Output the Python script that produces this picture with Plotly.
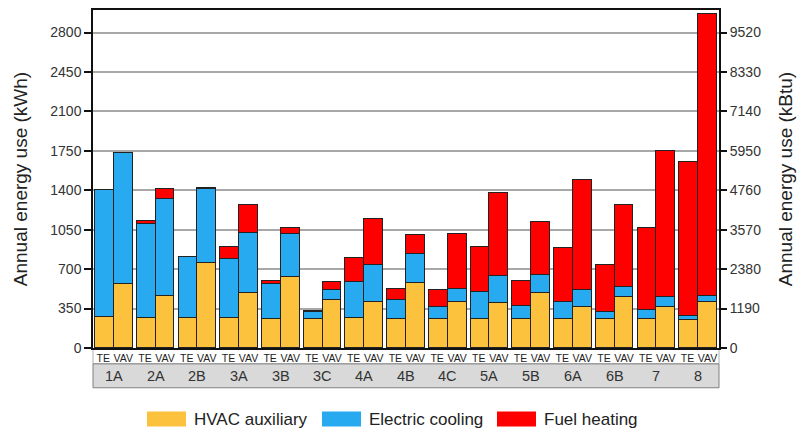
import plotly.graph_objects as go

groups = ["1A", "2A", "2B", "3A", "3B", "3C", "4A", "4B", "4C", "5A", "5B", "6A", "6B", "7", "8"]
systems = ["TE", "VAV"]
series_names = ["HVAC auxiliary", "Electric cooling", "Fuel heating"]
series_colors = ["#FCC23E", "#27AAF0", "#FF0000"]

hvac_te = [275, 265, 265, 265, 259, 256, 262, 256, 256, 256, 256, 256, 256, 256, 250]
hvac_vav = [571, 465, 754, 486, 627, 430, 404, 580, 404, 398, 492, 368, 451, 365, 407]
cool_te = [1125, 834, 539, 527, 310, 62, 324, 174, 109, 245, 115, 148, 65, 80, 36]
cool_vav = [1164, 855, 654, 536, 383, 83, 333, 254, 120, 244, 156, 148, 94, 86, 56]
heat_te = [0, 32, 0, 104, 26, 8, 215, 97, 151, 395, 224, 480, 416, 727, 1361]
heat_vav = [0, 91, 9, 245, 53, 73, 409, 165, 484, 734, 466, 975, 722, 1299, 2498]

left_ticks = [0, 350, 700, 1050, 1400, 1750, 2100, 2450, 2800]
right_ticks = [0, 1190, 2380, 3570, 4760, 5950, 7140, 8330, 9520]

# layout geometry
W, H = 803, 432
ML, MR, MT, MB = 93, 84, 8, 84
PW, PH = W - ML - MR, H - MT - MB
BW = 0.45
off = BW / 2

n = len(groups)
x_te = [i - off for i in range(n)]
x_vav = [i + off for i in range(n)]
xs = x_te + x_vav

# label positions (TE label nudged left a little, as in the original)
lab_te = [i - off - 0.03 for i in range(n)]
lab_vav = [i + off for i in range(n)]

values = [hvac_te + hvac_vav, cool_te + cool_vav, heat_te + heat_vav]

fig = go.Figure()
for name, color, vals in zip(series_names, series_colors, values):
    fig.add_trace(go.Bar(
        x=xs, y=vals, width=BW, name=name,
        marker=dict(color=color, line=dict(color="#222222", width=1)),
        showlegend=False,
    ))

fig.add_trace(go.Scatter(x=[0], y=[0], yaxis="y2", mode="markers",
                         marker=dict(opacity=0), showlegend=False, hoverinfo="skip"))

def px_x(p):
    return (p - ML) / PW

def px_y(p):
    return (H - MB - p) / PH

shapes = [
    dict(type="rect", xref="paper", yref="paper", x0=0, x1=1,
         y0=px_y(364), y1=px_y(348.5), fillcolor="white",
         line=dict(color="#b0b0b0", width=1), layer="below"),
    dict(type="rect", xref="paper", yref="paper", x0=0, x1=1,
         y0=px_y(388), y1=px_y(364), fillcolor="#d9d9d9",
         line=dict(color="#808080", width=1), layer="below"),
]

annotations = []
for i, g in enumerate(groups):
    annotations.append(dict(x=i, y=px_y(376), xref="x", yref="paper", text=g,
                            showarrow=False, font=dict(size=14.5, color="#333333"),
                            xanchor="center", yanchor="middle"))

# legend
sw_x = [147, 322, 497]
for name, color, sx in zip(series_names, series_colors, sw_x):
    shapes.append(dict(type="rect", xref="paper", yref="paper",
                       x0=px_x(sx), x1=px_x(sx + 39), y0=px_y(427), y1=px_y(412),
                       fillcolor=color, line=dict(width=0)))
    annotations.append(dict(x=px_x(sx + 45), y=px_y(419.5), xref="paper", yref="paper",
                            text=name, showarrow=False, xanchor="left", yanchor="middle",
                            font=dict(size=17, color="#222222")))

fig.update_layout(
    width=W, height=H,
    margin=dict(l=ML, r=MR, t=MT, b=MB),
    barmode="stack", bargap=0,
    plot_bgcolor="white", paper_bgcolor="white",
    font=dict(family="Liberation Sans, Arial, sans-serif", color="#222222"),
    xaxis=dict(range=[-0.5, n - 0.5], tickvals=lab_te + lab_vav,
               ticktext=[systems[0]] * n + [systems[1]] * n,
               tickangle=0, ticks="", ticklen=0,
               tickfont=dict(size=10.5, color="#222222"),
               showgrid=False, zeroline=False,
               showline=True, mirror=True, linecolor="#111111", linewidth=1.5),
    yaxis=dict(range=[0, 3000], tickvals=left_ticks,
               ticks="outside", ticklen=7, tickcolor="#111111", tickwidth=1.5,
               tickfont=dict(size=14, color="#333333"),
               showgrid=True, gridcolor="#a8a8a8", gridwidth=1.5, zeroline=False,
               showline=True, mirror=True, linecolor="#111111", linewidth=1.5,
               title=dict(text="Annual energy use (kWh)", font=dict(size=19, color="#222222"),
                          standoff=18)),
    yaxis2=dict(range=[0, 10200], tickvals=right_ticks, overlaying="y", side="right",
                ticks="outside", ticklen=7, tickcolor="#111111", tickwidth=1.5,
                tickfont=dict(size=14, color="#333333"),
                showgrid=False, zeroline=False,
                title=dict(text="Annual energy use (kBtu)", font=dict(size=19, color="#222222"),
                           standoff=18)),
    shapes=shapes,
    annotations=annotations,
)

fig.write_html("out.html", config={"displayModeBar": False},
               post_script="document.body.style.margin='0';document.body.style.overflow='hidden';")
